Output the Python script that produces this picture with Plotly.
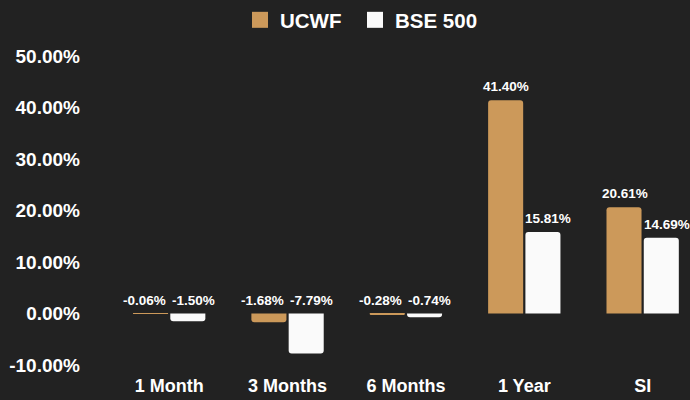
import plotly.graph_objects as go

categories = ["1 Month", "3 Months", "6 Months", "1 Year", "SI"]
ucwf = [-0.06, -1.68, -0.28, 41.40, 20.61]
bse500 = [-1.50, -7.79, -0.74, 15.81, 14.69]
series_names = ["UCWF", "BSE 500"]
y_ticks = [-10, 0, 10, 20, 30, 40, 50]
y_tick_labels = ["-10.00%", "0.00%", "10.00%", "20.00%", "30.00%", "40.00%", "50.00%"]

GOLD = "#cc995a"
WHITE = "#fafafa"
BG = "#222222"
FONT = "Liberation Sans, Arial, sans-serif"

fig = go.Figure()
fig.add_trace(go.Bar(x=categories, y=ucwf, name=series_names[0], showlegend=False,
                     marker=dict(color=GOLD, line=dict(width=0))))
fig.add_trace(go.Bar(x=categories, y=bse500, name=series_names[1], showlegend=False,
                     marker=dict(color=WHITE, line=dict(width=0))))
# legend-only entries with square swatches, one legend box each
for name, col, lg in zip(series_names, (GOLD, WHITE), ("legend", "legend2")):
    fig.add_trace(go.Scatter(x=[None], y=[None], mode="markers", name=name, legend=lg,
                             marker=dict(symbol="square", size=16, color=col)))

annotations = []
for vals, base_shift, neg_extra in ((ucwf, -18, -7), (bse500, 24, 0)):
    for c, v in zip(categories, vals):
        annotations.append(dict(
            x=c, y=max(v, 0), xref="x", yref="y",
            text=f"{v:.2f}%", showarrow=False,
            xshift=base_shift + (neg_extra if v < 0 else 0),
            yanchor="bottom", yshift=4,
            font=dict(family=FONT, size=13.5, color="#ffffff", weight="bold")))

legend_common = dict(orientation="h", xanchor="left", xref="container",
                     y=1.0, yanchor="top", yref="container",
                     font=dict(family=FONT, size=20.5, color="#ffffff", weight="bold"),
                     itemwidth=30, bgcolor="rgba(0,0,0,0)")

fig.update_layout(
    width=690, height=400,
    paper_bgcolor=BG, plot_bgcolor=BG,
    margin=dict(l=110, r=0, t=56, b=35),
    barmode="group", bargap=0.37, bargroupgap=0.06,
    barcornerradius=3,
    font=dict(family=FONT, color="#ffffff"),
    showlegend=True,
    legend=dict(x=(251 - 11) / 690, **legend_common),
    legend2=dict(x=(366 - 11) / 690, **legend_common),
    annotations=annotations,
    xaxis=dict(range=[-0.5, 4.4], showgrid=False, zeroline=False, showline=False,
               tickfont=dict(family=FONT, size=18, color="#ffffff", weight="bold"),
               ticklabelstandoff=8),
    yaxis=dict(range=[-10, 50], tickvals=y_ticks, ticktext=y_tick_labels,
               showgrid=False, zeroline=False, showline=False,
               tickfont=dict(family=FONT, size=19, color="#ffffff", weight="bold"),
               ticklabelstandoff=29),
)

fig.write_html("out.html", config={"displayModeBar": False},
               post_script="document.body.style.margin='0';document.body.style.background='#222222';")
